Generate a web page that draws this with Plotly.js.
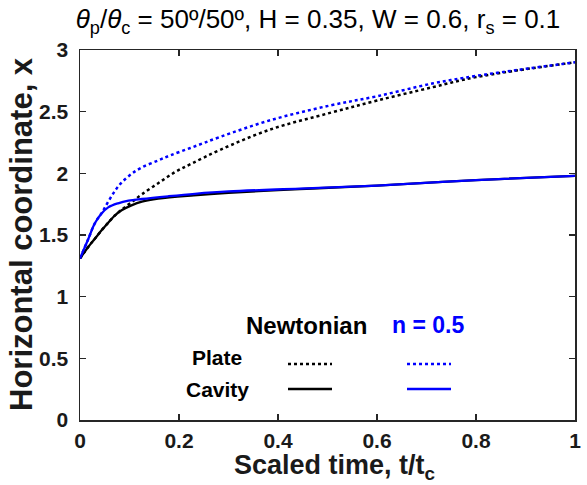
<!DOCTYPE html>
<html>
<head>
<meta charset="utf-8">
<script src="https://cdn.plot.ly/plotly-3.0.1.min.js"></script>
<style>html,body{margin:0;padding:0;background:#fff;}#chart{width:587px;height:485px;}</style>
</head>
<body>
<div id="chart"></div>
<script>
// Newtonian, cavity (black solid)
const tNewtCavity = [0, 0.017, 0.03, 0.044, 0.057, 0.071, 0.084, 0.104, 0.125, 0.158, 0.23, 0.3, 0.444, 0.6, 0.8, 1];
const xNewtCavity = [1.31, 1.405, 1.47, 1.54, 1.60, 1.66, 1.70, 1.74, 1.77, 1.795, 1.822, 1.842, 1.872, 1.90, 1.945, 1.98];
// Newtonian, plate (black dotted)
const tNewtPlate = [0, 0.017, 0.03, 0.044, 0.057, 0.071, 0.084, 0.104, 0.125, 0.158, 0.192, 0.226, 0.283, 0.384, 0.505, 0.6, 0.714, 0.8, 1];
const xNewtPlate = [1.31, 1.405, 1.47, 1.54, 1.60, 1.66, 1.705, 1.765, 1.83, 1.92, 2.01, 2.08, 2.19, 2.355, 2.49, 2.59, 2.70, 2.78, 2.90];
// n = 0.5, cavity (blue solid)
const tPowCavity = [0, 0.017, 0.03, 0.044, 0.057, 0.077, 0.098, 0.125, 0.178, 0.232, 0.3, 0.444, 0.6, 0.8, 1];
const xPowCavity = [1.31, 1.47, 1.595, 1.676, 1.724, 1.757, 1.778, 1.792, 1.814, 1.834, 1.853, 1.876, 1.90, 1.945, 1.98];
// n = 0.5, plate (blue dotted)
const tPowPlate = [0, 0.017, 0.03, 0.044, 0.057, 0.071, 0.084, 0.104, 0.125, 0.158, 0.182, 0.226, 0.283, 0.384, 0.505, 0.6, 0.714, 0.8, 1];
const xPowPlate = [1.31, 1.47, 1.595, 1.68, 1.77, 1.86, 1.925, 1.995, 2.048, 2.105, 2.145, 2.21, 2.295, 2.43, 2.55, 2.625, 2.73, 2.79, 2.90];

const xTicks = [0, 0.2, 0.4, 0.6, 0.8, 1];
const xTickText = ['0', '0.2', '0.4', '0.6', '0.8', '1'];
const yTicks = [0, 0.5, 1, 1.5, 2, 2.5, 3];
const yTickText = ['0', '0.5', '1', '1.5', '2', '2.5', '3'];

const legendHeader = ['Newtonian', 'n = 0.5'];
const legendRows = ['Plate', 'Cavity'];

const BLUE = '#0000ff', BLACK = '#000000';
const FONT = 'Liberation Sans, Arial, Helvetica, sans-serif';
const NARROW = 'Liberation Sans Narrow, Arial Narrow, Liberation Sans, Arial, sans-serif';

const traces = [
  {x: tNewtPlate, y: xNewtPlate, mode: 'lines', line: {color: BLACK, width: 2.5, dash: 'dot', shape: 'spline'}, showlegend: false},
  {x: tPowPlate, y: xPowPlate, mode: 'lines', line: {color: BLUE, width: 2.5, dash: 'dot', shape: 'spline'}, showlegend: false},
  {x: tNewtCavity, y: xNewtCavity, mode: 'lines', line: {color: BLACK, width: 2.3, shape: 'spline'}, showlegend: false},
  {x: tPowCavity, y: xPowCavity, mode: 'lines', line: {color: BLUE, width: 2.3, shape: 'spline'}, showlegend: false}
];

const W = 587, H = 485, L = 80, R = 12, T = 50, B = 65;
const px = v => (v - L) / (W - L - R);
const py = v => 1 - (v - T) / (H - T - B);

const axisCommon = {
  showgrid: false, zeroline: false, showline: true, mirror: 'ticks',
  linecolor: '#262626', linewidth: 1.5, ticks: 'inside', ticklen: 6, tickwidth: 1.3, tickcolor: '#262626',
  tickfont: {family: FONT, size: 21, color: '#1a1a1a', weight: 'bold'}, tickmode: 'array', fixedrange: true
};

const layout = {
  width: W, height: H,
  margin: {l: L, r: R, t: T, b: B, pad: 0},
  paper_bgcolor: '#fff', plot_bgcolor: '#fff',
  title: {text: '<i>θ</i><sub>p</sub>/<i>θ</i><sub>c</sub> = 50º/50º, H = 0.35, W = 0.6, r<sub>s</sub> = 0.1',
          font: {family: FONT, size: 26, color: '#000'}, x: px(318), xanchor: 'center', y: 1 - 19 / H, yanchor: 'middle', xref: 'paper'},
  xaxis: Object.assign({}, axisCommon, {range: [0, 1], tickvals: xTicks, ticktext: xTickText, ticklabelstandoff: 1}),
  yaxis: Object.assign({}, axisCommon, {range: [0, 3], tickvals: yTicks, ticktext: yTickText, ticklabelstandoff: 6}),
  showlegend: false,
  annotations: [
    {text: 'Scaled time, t/t<sub>c</sub>', xref: 'paper', yref: 'paper', x: px(334), y: py(467), xanchor: 'center', yanchor: 'middle', showarrow: false,
     font: {family: NARROW, size: 27, color: '#1a1a1a', weight: 'bold'}},
    {text: 'Horizontal coordinate, x', xref: 'paper', yref: 'paper', x: px(21), y: py(234), xanchor: 'center', yanchor: 'middle', textangle: -90, showarrow: false,
     font: {family: NARROW, size: 31, color: '#1a1a1a', weight: 'bold'}},
    {text: legendHeader[0], xref: 'paper', yref: 'paper', x: px(306), y: py(325), xanchor: 'center', yanchor: 'middle', showarrow: false,
     font: {family: FONT, size: 24, color: '#000', weight: 'bold'}},
    {text: legendHeader[1], xref: 'paper', yref: 'paper', x: px(428), y: py(325), xanchor: 'center', yanchor: 'middle', showarrow: false,
     font: {family: FONT, size: 23, color: BLUE, weight: 'bold'}},
    {text: legendRows[0], xref: 'paper', yref: 'paper', x: px(217), y: py(357), xanchor: 'center', yanchor: 'middle', showarrow: false,
     font: {family: FONT, size: 21, color: '#000', weight: 'bold'}},
    {text: legendRows[1], xref: 'paper', yref: 'paper', x: px(217), y: py(389), xanchor: 'center', yanchor: 'middle', showarrow: false,
     font: {family: FONT, size: 21, color: '#000', weight: 'bold'}}
  ],
  shapes: [
    {type: 'line', xref: 'paper', yref: 'paper', x0: px(288), x1: px(332), y0: py(364), y1: py(364), line: {color: BLACK, width: 2.3, dash: 'dot'}},
    {type: 'line', xref: 'paper', yref: 'paper', x0: px(407), x1: px(451), y0: py(364), y1: py(364), line: {color: BLUE, width: 2.3, dash: 'dot'}},
    {type: 'line', xref: 'paper', yref: 'paper', x0: px(288), x1: px(332), y0: py(389), y1: py(389), line: {color: BLACK, width: 2.3}},
    {type: 'line', xref: 'paper', yref: 'paper', x0: px(407), x1: px(451), y0: py(389), y1: py(389), line: {color: BLUE, width: 2.3}}
  ]
};

Plotly.newPlot('chart', traces, layout, {displayModeBar: false, staticPlot: true});
</script>
</body>
</html>
